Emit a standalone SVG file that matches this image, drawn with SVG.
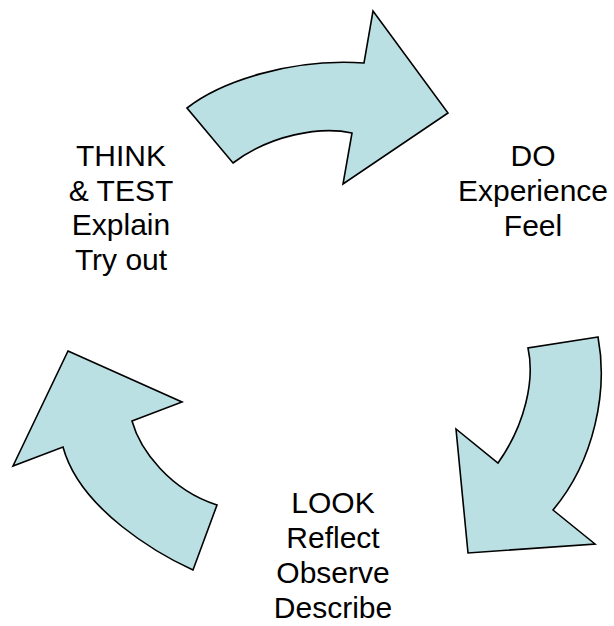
<svg xmlns="http://www.w3.org/2000/svg" width="614" height="626" viewBox="0 0 614 626">
<style>
.arrow{fill:#BBE0E3;stroke:#000;stroke-width:1.6;stroke-linejoin:miter}
.lbl{font-family:"Liberation Sans",Arial,sans-serif;font-size:30px;fill:#000;text-anchor:middle}
</style>
<rect width="614" height="626" fill="#fff"/>
<g id="connectors">
<path id="arrow-think-do" class="arrow" d="M187,108 C220,82 290,58 364,63 L373,11 L448,113 L343,184 L352,133 C320,126 270,135 233,163 Z"/>
<path id="arrow-do-look" class="arrow" d="M598,337 L528,348 C535,380 525,425 498,463 L456,429 L468,553 L595,544 L553,510 C595,460 608,390 598,337 Z"/>
<path id="arrow-look-think" class="arrow" d="M68,351 L182,402 L132,421 C140,450 170,490 217,505 L193,570 C160,555 80,510 63,447 L13,466 Z"/>
</g>
<g id="node-think">
<text class="lbl" x="121" y="166">THINK</text>
<text class="lbl" x="121" y="200.5">&amp; TEST</text>
<text class="lbl" x="121" y="235">Explain</text>
<text class="lbl" x="121" y="269.5">Try out</text>
</g>
<g id="node-do">
<text class="lbl" x="533" y="166">DO</text>
<text class="lbl" x="533" y="201">Experience</text>
<text class="lbl" x="533" y="236">Feel</text>
</g>
<g id="node-look">
<text class="lbl" x="333" y="513">LOOK</text>
<text class="lbl" x="333" y="548">Reflect</text>
<text class="lbl" x="333" y="583">Observe</text>
<text class="lbl" x="333" y="618">Describe</text>
</g>
</svg>
